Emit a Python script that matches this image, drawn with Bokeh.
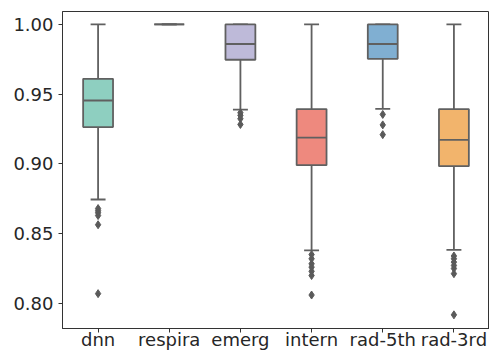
from bokeh.plotting import figure
from bokeh.models import FactorRange, Range1d, FixedTicker, ColumnDataSource, NumeralTickFormatter
from bokeh.transform import dodge
from bokeh.embed import file_html
from bokeh.resources import INLINE

categories = ["dnn", "respira", "emerg", "intern", "rad-5th", "rad-3rd"]
q1 = [0.9264, 1.0, 0.9747, 0.8991, 0.9754, 0.8984]
median = [0.9455, 1.0, 0.9860, 0.9188, 0.9860, 0.9173]
q3 = [0.9610, 1.0, 1.0, 0.9393, 1.0, 0.9393]
lower = [0.8745, 1.0, 0.9390, 0.8380, 0.9395, 0.8384]
upper = [1.0, 1.0, 1.0, 1.0, 1.0, 1.0]
colors = ["#8ecfc0", "#f6f0b8", "#bebad9", "#ee897e", "#80afd2", "#f2b46c"]
outliers = {
    "dnn": [0.868, 0.8665, 0.865, 0.863, 0.8564, 0.807],
    "respira": [],
    "emerg": [0.9367, 0.9348, 0.9324, 0.9283],
    "intern": [0.835, 0.832, 0.8284, 0.826, 0.823, 0.820, 0.806],
    "rad-5th": [0.9355, 0.928, 0.921],
    "rad-3rd": [0.834, 0.832, 0.8296, 0.8272, 0.825, 0.8213, 0.7918],
}
yticks = [0.80, 0.85, 0.90, 0.95, 1.00]

p = figure(x_range=FactorRange(*categories, range_padding=0),
           y_range=Range1d(0.782, 1.0093),
           width=489, height=354, output_backend="svg", toolbar_location=None,
           min_border_left=62, min_border_top=11, min_border_right=0, min_border_bottom=26)

src = ColumnDataSource(dict(cat=categories, q1=q1, med=median, q3=q3,
                            lo=lower, hi=upper, color=colors))
line_c = "#606060"
bw = 0.42
lw = 1.8
# whiskers
p.segment(x0="cat", y0="lo", x1="cat", y1="q1", source=src, line_color=line_c, line_width=lw)
p.segment(x0="cat", y0="q3", x1="cat", y1="hi", source=src, line_color=line_c, line_width=lw)
# caps
p.segment(x0=dodge("cat", -bw / 4, range=p.x_range), y0="lo",
          x1=dodge("cat", bw / 4, range=p.x_range), y1="lo", source=src,
          line_color=line_c, line_width=lw)
p.segment(x0=dodge("cat", -bw / 4, range=p.x_range), y0="hi",
          x1=dodge("cat", bw / 4, range=p.x_range), y1="hi", source=src,
          line_color=line_c, line_width=lw)
# boxes
p.vbar(x="cat", bottom="q1", top="q3", width=bw, source=src, fill_color="color",
       line_color=line_c, line_width=lw)
# medians
p.segment(x0=dodge("cat", -bw / 2, range=p.x_range), y0="med",
          x1=dodge("cat", bw / 2, range=p.x_range), y1="med", source=src,
          line_color=line_c, line_width=lw)
# outliers
ox, oy = [], []
for c in categories:
    for v in outliers[c]:
        ox.append(c)
        oy.append(v)
p.scatter(x=ox, y=oy, marker="diamond", size=8, fill_color="#5a5a5a", line_color="#5a5a5a")

p.xgrid.visible = False
p.ygrid.visible = False
p.outline_line_color = "#333333"
p.outline_line_width = 1
for ax in (p.xaxis[0], p.yaxis[0]):
    ax.axis_line_color = "#333333"
    ax.major_tick_line_color = "#333333"
    ax.major_tick_out = 4
    ax.major_tick_in = 0
    ax.minor_tick_line_color = None
    ax.major_label_text_font = "DejaVu Sans"
    ax.major_label_text_font_size = "18px"
    ax.major_label_text_color = "#262626"
p.yaxis.ticker = FixedTicker(ticks=yticks)
p.yaxis.formatter = NumeralTickFormatter(format="0.00")
p.yaxis.major_label_standoff = 5
p.xaxis.major_label_standoff = -4

open("out.html", "w").write(file_html(p, INLINE))
